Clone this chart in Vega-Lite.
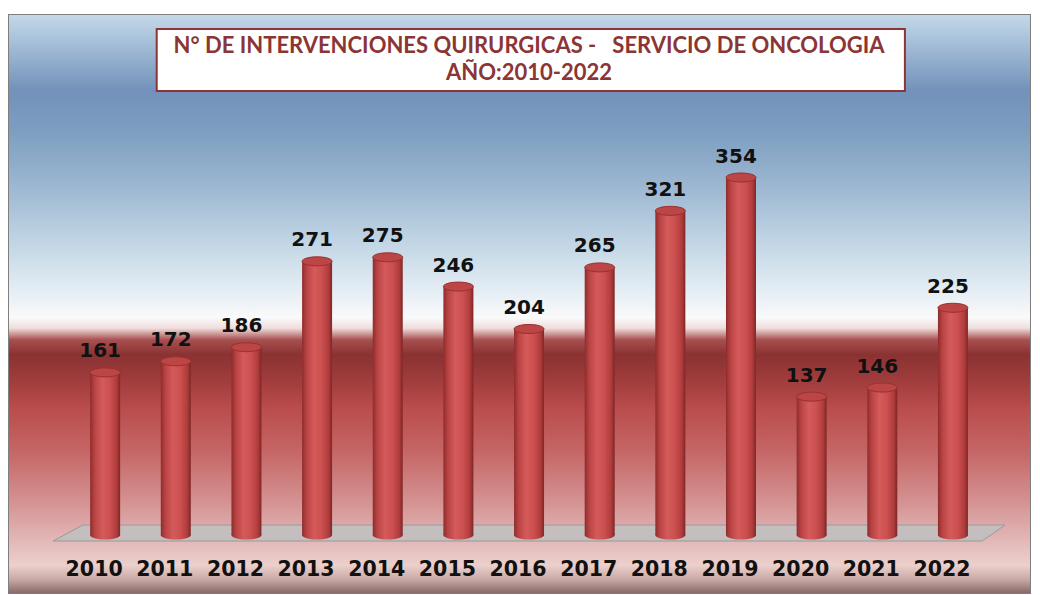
{
  "$schema": "https://vega.github.io/schema/vega-lite/v6.json",
  "width": 1021,
  "height": 578,
  "autosize": "none",
  "padding": {"left": 9, "top": 15, "right": 10, "bottom": 2},
  "background": "white",
  "config": {"view": {"stroke": "#7f7f7f", "strokeWidth": 2}},
  "datasets": {
    "bars": [
      {"year": 2010, "n": 161},
      {"year": 2011, "n": 172},
      {"year": 2012, "n": 186},
      {"year": 2013, "n": 271},
      {"year": 2014, "n": 275},
      {"year": 2015, "n": 246},
      {"year": 2016, "n": 204},
      {"year": 2017, "n": 265},
      {"year": 2018, "n": 321},
      {"year": 2019, "n": 354},
      {"year": 2020, "n": 137},
      {"year": 2021, "n": 146},
      {"year": 2022, "n": 225}
    ],
    "one": [{}]
  },
  "layer": [
    {
      "data": {"name": "one"},
      "mark": {
        "type": "rect",
        "fill": {
          "gradient": "linear", "x1": 0, "y1": 0, "x2": 0, "y2": 1,
          "stops": [
            {"offset": 0, "color": "#c4d8e8"},
            {"offset": 0.043, "color": "#a9c2da"},
            {"offset": 0.13, "color": "#7391bb"},
            {"offset": 0.2, "color": "#7d9ec0"},
            {"offset": 0.285, "color": "#98b4cf"},
            {"offset": 0.39, "color": "#c0d4e4"},
            {"offset": 0.476, "color": "#e4edf4"},
            {"offset": 0.524, "color": "#fafafa"},
            {"offset": 0.542, "color": "#f0dcdc"},
            {"offset": 0.562, "color": "#a85050"},
            {"offset": 0.588, "color": "#8a3232"},
            {"offset": 0.631, "color": "#a03c3c"},
            {"offset": 0.683, "color": "#bb4d4d"},
            {"offset": 0.753, "color": "#c56565"},
            {"offset": 0.839, "color": "#d49090"},
            {"offset": 0.917, "color": "#e4bcbc"},
            {"offset": 0.952, "color": "#ecd0cc"},
            {"offset": 0.977, "color": "#c8a8a4"},
            {"offset": 1, "color": "#8a6a68"}
          ]
        }
      },
      "encoding": {
        "x": {"value": 0},
        "x2": {"value": "width"},
        "y": {"value": 0},
        "y2": {"value": "height"}
      }
    },
    {
      "data": {"name": "one"},
      "mark": {
        "type": "point",
        "shape": "M -1 0.0168 L -0.937 -0.0168 L 1 -0.0168 L 0.952 0.0168 Z",
        "size": 906304,
        "filled": true,
        "opacity": 1,
        "fill": "#c4bebe",
        "stroke": "#9a9a9a",
        "strokeWidth": 1
      },
      "encoding": {
        "x": {"datum": 2016.0, "type": "quantitative", "scale": {"domain": [2008.71, 2023.02], "nice": false, "zero": false}, "axis": null},
        "y": {"datum": 2, "type": "quantitative", "scale": {"domain": [-57.4, 514.9], "nice": false, "zero": false}, "axis": null}
      }
    },
    {
      "data": {"name": "bars"},
      "mark": {
        "type": "point",
        "shape": "M -1 0 A 1 0.3 0 1 1 1 0 A 1 0.3 0 1 1 -1 0 Z",
        "size": 900,
        "filled": true,
        "opacity": 1,
        "fill": {
          "gradient": "linear", "x1": 0, "y1": 0, "x2": 1, "y2": 0,
          "stops": [
            {"offset": 0, "color": "#8f2c2c"},
            {"offset": 0.15, "color": "#b94343"},
            {"offset": 0.4, "color": "#d55a5a"},
            {"offset": 0.65, "color": "#cc5050"},
            {"offset": 0.88, "color": "#b03c3c"},
            {"offset": 1, "color": "#7e2626"}
          ]
        }
      },
      "encoding": {
        "x": {"field": "year", "type": "quantitative", "scale": {"domain": [2008.71, 2023.02], "nice": false, "zero": false}, "axis": null},
        "y": {"datum": 0, "type": "quantitative", "scale": {"domain": [-57.4, 514.9], "nice": false, "zero": false}, "axis": null}
      }
    },
    {
      "data": {"name": "bars"},
      "mark": {
        "type": "bar",
        "size": 30,
        "fill": {
          "gradient": "linear", "x1": 0, "y1": 0, "x2": 1, "y2": 0,
          "stops": [
            {"offset": 0, "color": "#8f2c2c"},
            {"offset": 0.15, "color": "#b94343"},
            {"offset": 0.4, "color": "#d55a5a"},
            {"offset": 0.65, "color": "#cc5050"},
            {"offset": 0.88, "color": "#b03c3c"},
            {"offset": 1, "color": "#7e2626"}
          ]
        }
      },
      "encoding": {
        "x": {"field": "year", "type": "quantitative", "scale": {"domain": [2008.71, 2023.02], "nice": false, "zero": false}, "axis": null},
        "y": {"field": "n", "type": "quantitative", "scale": {"domain": [-57.4, 514.9], "nice": false, "zero": false}, "axis": null},
        "y2": {"datum": 0}
      }
    },
    {
      "data": {"name": "bars"},
      "mark": {
        "type": "point",
        "shape": "M -1 0 A 1 0.3 0 1 1 1 0 A 1 0.3 0 1 1 -1 0 Z",
        "size": 900,
        "filled": true,
        "opacity": 1,
        "fill": "#bc4545",
        "stroke": "#9a3030",
        "strokeWidth": 1
      },
      "encoding": {
        "x": {"field": "year", "type": "quantitative", "scale": {"domain": [2008.71, 2023.02], "nice": false, "zero": false}, "axis": null},
        "y": {"field": "n", "type": "quantitative", "scale": {"domain": [-57.4, 514.9], "nice": false, "zero": false}, "axis": null}
      }
    },
    {
      "data": {"name": "bars"},
      "mark": {
        "type": "text",
        "font": "DejaVu Sans",
        "fontWeight": "bold",
        "fontSize": 20,
        "color": "#111111",
        "baseline": "alphabetic",
        "dy": -15,
        "dx": -5
      },
      "encoding": {
        "x": {"field": "year", "type": "quantitative", "scale": {"domain": [2008.71, 2023.02], "nice": false, "zero": false}, "axis": null},
        "y": {"field": "n", "type": "quantitative", "scale": {"domain": [-57.4, 514.9], "nice": false, "zero": false}, "axis": null},
        "text": {"field": "n", "type": "quantitative"}
      }
    },
    {
      "data": {"name": "bars"},
      "mark": {
        "type": "text",
        "font": "DejaVu Sans",
        "fontWeight": "bold",
        "fontSize": 20.5,
        "color": "#111111",
        "baseline": "middle",
        "dx": -11
      },
      "encoding": {
        "x": {"field": "year", "type": "quantitative", "scale": {"domain": [2008.71, 2023.02], "nice": false, "zero": false}, "axis": null},
        "y": {"datum": -34.7, "type": "quantitative", "scale": {"domain": [-57.4, 514.9], "nice": false, "zero": false}, "axis": null},
        "text": {"field": "year", "type": "nominal"}
      }
    },
    {
      "data": {"name": "one"},
      "mark": {"type": "rect", "fill": "white", "stroke": "#8b3535", "strokeWidth": 2},
      "encoding": {
        "x": {"datum": 2010.73, "type": "quantitative", "scale": {"domain": [2008.71, 2023.02], "nice": false, "zero": false}, "axis": null},
        "x2": {"datum": 2021.32},
        "y": {"datum": 501, "type": "quantitative", "scale": {"domain": [-57.4, 514.9], "nice": false, "zero": false}, "axis": null},
        "y2": {"datum": 439.6}
      }
    },
    {
      "data": {"name": "one"},
      "mark": {
        "type": "text",
        "font": "Lato",
        "fontWeight": "bold",
        "fontSize": 22,
        "color": "#8b3535",
        "baseline": "middle",
        "align": "center",
        "lineHeight": 27,
        "text": ["N° DE INTERVENCIONES QUIRURGICAS -\u00a0\u00a0 SERVICIO DE ONCOLOGIA", "AÑO:2010-2022"]
      },
      "encoding": {
        "x": {"datum": 2016.0, "type": "quantitative", "scale": {"domain": [2008.71, 2023.02], "nice": false, "zero": false}, "axis": null},
        "y": {"datum": 484.2, "type": "quantitative", "scale": {"domain": [-57.4, 514.9], "nice": false, "zero": false}, "axis": null}
      }
    }
  ]
}
